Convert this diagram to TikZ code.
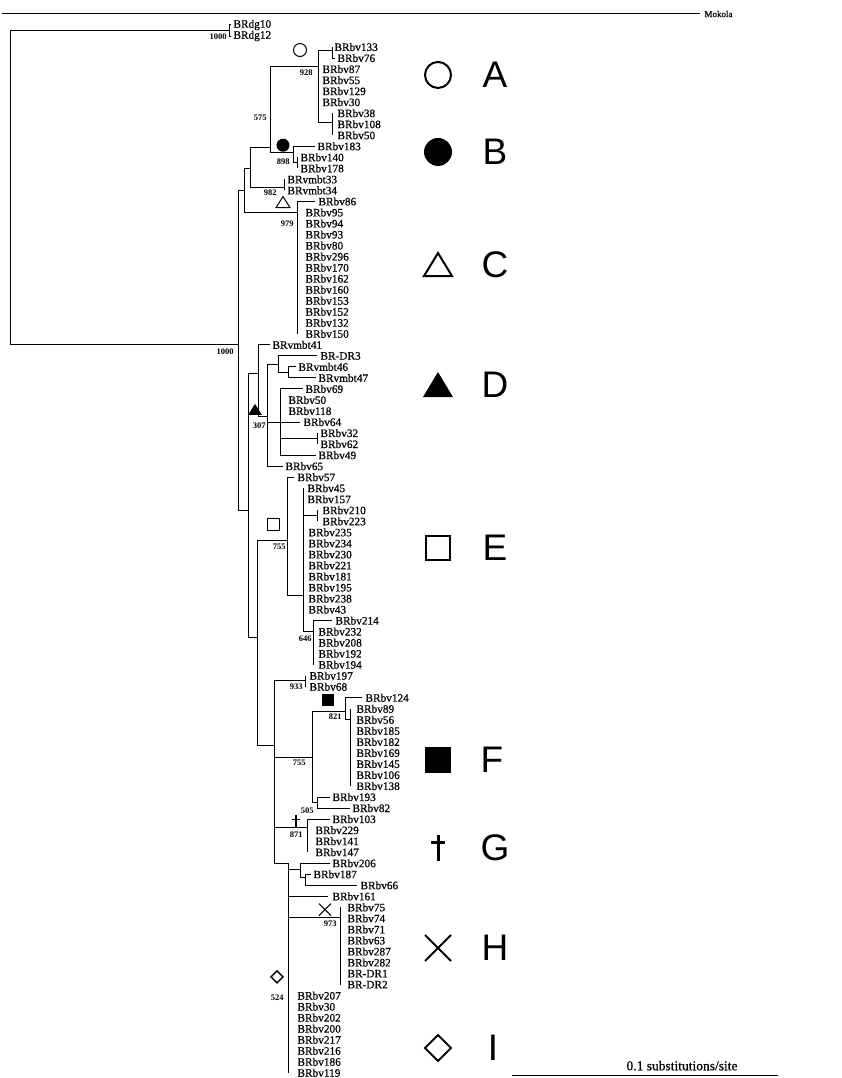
\documentclass[tikz,border=0pt]{standalone}
\usepackage{fontspec}
\setmainfont{Liberation Serif}
\newfontfamily\lsans{Liberation Sans}
\newfontfamily\leaffont[FakeBold=0.6]{Liberation Serif}
\begin{document}
\begin{tikzpicture}[x=1pt,y=-11.03pt,line width=1pt,
  leaf/.style={anchor=west,inner sep=0pt,font=\leaffont\fontsize{11.3}{11.3}\selectfont},
  boot/.style={anchor=east,inner sep=0pt,font=\bfseries\fontsize{8.5}{8.5}\selectfont},
  legtxt/.style={anchor=center,inner sep=0pt,font=\lsans\fontsize{37}{37}\selectfont},
  sym/.style={line width=1pt},
  legsym/.style={line width=2pt}]
\useasboundingbox[fill=white] (0,-1.2665) rectangle (842,96.467);
\newcommand\tleaf[3]{\node[leaf] (L#2) at (#1,#2) {#3};}
\newcommand\hb[3]{\draw (#2,#1) -- (#3,#1);}
\newcommand\vb[3]{\draw (#1,#2) -- (#1,#3);}
% ---------- branches ----------
\hb{0}{2}{700}
\vb{10}{1.5}{30}
\hb{1.5}{10}{229}\vb{229}{1}{2}\hb{1}{229}{231}\hb{2}{229}{231}
\hb{30}{10}{238}
\vb{238}{16}{45}
\hb{16}{238}{244}\vb{244}{14}{18}\hb{14}{244}{250}\vb{250}{12.1}{15.7}
\hb{12.1}{250}{270}\hb{15.7}{250}{284}\vb{284}{15}{16}
\vb{270}{4.8}{12.6}\hb{4.8}{270}{318}\hb{12.6}{270}{293}
% A
\vb{318}{3.3}{9.8}\hb{3.3}{318}{332}\vb{332}{3}{4}\hb{4}{332}{335}
\hb{9.8}{318}{332}\vb{332}{9}{11}
% B
\vb{293}{12}{13.5}\hb{12}{293}{315}\hb{13.5}{293}{297}\vb{297}{13}{14}
% C
\hb{18}{244}{297}\vb{297}{17}{29}\hb{17}{297}{315}
% D
\hb{45}{238}{248}\vb{248}{32.6}{56.5}\hb{32.6}{248}{258}\vb{258}{30}{36.5}
\hb{30}{258}{270}\hb{36.5}{258}{267}\vb{267}{31.8}{41}
\hb{31.8}{267}{278}\vb{278}{31}{32.5}\hb{31}{278}{317}\hb{32.5}{278}{288}
\vb{288}{32}{33}\hb{32}{288}{296}\hb{33}{288}{316}
\hb{37}{267}{280}\vb{280}{34}{40}\hb{34}{280}{303}\hb{37}{280}{300}
\hb{38.5}{280}{317}\vb{317}{38}{39}\hb{40}{280}{316}\hb{41}{267}{283}
% E
\hb{56.5}{248}{257}\vb{257}{47.7}{66.3}\hb{47.7}{257}{287}
\vb{287}{42}{52.7}\hb{42}{287}{294}\hb{52.7}{287}{303}
\vb{303}{43}{56}\hb{45.5}{303}{317}\vb{317}{45}{46}
\hb{56}{303}{313}\vb{313}{55}{59}\hb{55}{313}{332}
% F, G
\hb{66.3}{257}{274}\vb{274}{60.4}{77}\hb{60.4}{274}{305}\vb{305}{60}{61}
\hb{67.4}{274}{312}\vb{312}{63.2}{71.5}\hb{63.2}{312}{345}
\vb{345}{62}{64}\hb{62}{345}{362}\hb{64}{345}{350}\vb{350}{63}{70}
\hb{71.5}{312}{317}\vb{317}{71}{72}\hb{71}{317}{330}\hb{72}{317}{350}
\hb{73.8}{274}{307}\vb{307}{73}{76}\hb{73}{307}{330}
% H, I
\hb{77}{274}{288}\vb{288}{77}{96}\hb{77.6}{288}{300}\vb{300}{77}{78.3}
\hb{77}{300}{330}\hb{78.3}{300}{305}\vb{305}{78}{79}\hb{78}{305}{311}
\hb{79}{305}{357}\hb{80}{288}{328}\hb{81.9}{288}{340}\vb{340}{81}{88}
% ---------- leaves ----------
\node[leaf,font=\leaffont\fontsize{9}{9}\selectfont] (mok) at (704,0) {Mokola};
\tleaf{233}{1}{BRdg10}\tleaf{233}{2}{BRdg12}
\tleaf{334}{3}{BRbv133}\tleaf{337}{4}{BRbv76}
\tleaf{322}{5}{BRbv87}\tleaf{322}{6}{BRbv55}\tleaf{322}{7}{BRbv129}\tleaf{322}{8}{BRbv30}
\tleaf{337}{9}{BRbv38}\tleaf{337}{10}{BRbv108}\tleaf{337}{11}{BRbv50}
\tleaf{317}{12}{BRbv183}\tleaf{300}{13}{BRbv140}\tleaf{300}{14}{BRbv178}
\tleaf{287}{15}{BRvmbt33}\tleaf{287}{16}{BRvmbt34}
\tleaf{318}{17}{BRbv86}
\tleaf{305}{18}{BRbv95}\tleaf{305}{19}{BRbv94}\tleaf{305}{20}{BRbv93}\tleaf{305}{21}{BRbv80}
\tleaf{305}{22}{BRbv296}\tleaf{305}{23}{BRbv170}\tleaf{305}{24}{BRbv162}\tleaf{305}{25}{BRbv160}
\tleaf{305}{26}{BRbv153}\tleaf{305}{27}{BRbv152}\tleaf{305}{28}{BRbv132}\tleaf{305}{29}{BRbv150}
\tleaf{272}{30}{BRvmbt41}\tleaf{320}{31}{BR-DR3}\tleaf{298}{32}{BRvmbt46}\tleaf{318}{33}{BRvmbt47}
\tleaf{305}{34}{BRbv69}\tleaf{288}{35}{BRbv50}\tleaf{288}{36}{BRbv118}\tleaf{303}{37}{BRbv64}
\tleaf{320}{38}{BRbv32}\tleaf{320}{39}{BRbv62}\tleaf{318}{40}{BRbv49}\tleaf{285}{41}{BRbv65}
\tleaf{297}{42}{BRbv57}\tleaf{307}{43}{BRbv45}\tleaf{307}{44}{BRbv157}
\tleaf{322}{45}{BRbv210}\tleaf{322}{46}{BRbv223}
\tleaf{308}{47}{BRbv235}\tleaf{308}{48}{BRbv234}\tleaf{308}{49}{BRbv230}\tleaf{308}{50}{BRbv221}
\tleaf{308}{51}{BRbv181}\tleaf{308}{52}{BRbv195}\tleaf{308}{53}{BRbv238}\tleaf{308}{54}{BRbv43}
\tleaf{335}{55}{BRbv214}\tleaf{318}{56}{BRbv232}\tleaf{318}{57}{BRbv208}\tleaf{318}{58}{BRbv192}
\tleaf{318}{59}{BRbv194}
\tleaf{309}{60}{BRbv197}\tleaf{309}{61}{BRbv68}
\tleaf{365}{62}{BRbv124}
\tleaf{356}{63}{BRbv89}\tleaf{356}{64}{BRbv56}\tleaf{356}{65}{BRbv185}\tleaf{356}{66}{BRbv182}
\tleaf{356}{67}{BRbv169}\tleaf{356}{68}{BRbv145}\tleaf{356}{69}{BRbv106}\tleaf{356}{70}{BRbv138}
\tleaf{332}{71}{BRbv193}\tleaf{352}{72}{BRbv82}
\tleaf{332}{73}{BRbv103}\tleaf{315}{74}{BRbv229}\tleaf{315}{75}{BRbv141}\tleaf{315}{76}{BRbv147}
\tleaf{332}{77}{BRbv206}\tleaf{313}{78}{BRbv187}\tleaf{360}{79}{BRbv66}\tleaf{332}{80}{BRbv161}
\tleaf{347}{81}{BRbv75}\tleaf{347}{82}{BRbv74}\tleaf{347}{83}{BRbv71}\tleaf{347}{84}{BRbv63}
\tleaf{347}{85}{BRbv287}\tleaf{347}{86}{BRbv282}\tleaf{347}{87}{BR-DR1}\tleaf{347}{88}{BR-DR2}
\tleaf{297}{89}{BRbv207}\tleaf{297}{90}{BRbv30}\tleaf{297}{91}{BRbv202}\tleaf{297}{92}{BRbv200}
\tleaf{297}{93}{BRbv217}\tleaf{297}{94}{BRbv216}\tleaf{297}{95}{BRbv186}\tleaf{297}{96}{BRbv119}
% ---------- bootstrap values ----------
\node[boot] (b1) at (227,2.1) {1000};
\node[boot] (b2) at (313,5.3) {928};
\node[boot] (b3) at (267,9.4) {575};
\node[boot] (b4) at (290,13.4) {898};
\node[boot] (b5) at (277,16.2) {982};
\node[boot] (b6) at (294,19) {979};
\node[boot] (b7) at (234,30.6) {1000};
\node[boot] (b8) at (266,37.3) {307};
\node[boot] (b9) at (286,48.3) {755};
\node[boot] (b10) at (312,56.6) {646};
\node[boot] (b11) at (303,61) {933};
\node[boot] (b12) at (342,63.7) {821};
\node[boot] (b13) at (306,67.9) {755};
\node[boot] (b14) at (314,72.2) {505};
\node[boot] (b15) at (303,74.4) {871};
\node[boot] (b16) at (337,82.5) {973};
\node[boot] (b17) at (284,89.2) {524};
% ---------- symbols on tree ----------
\draw[sym] (300,3.27) circle[radius=6.5pt];
\fill (283,11.9) circle[radius=6.5pt];
\begin{scope}[shift={(283,17.1)},x=1pt,y=1pt]\draw[sym] (0,6) -- (-7,-5) -- (7,-5) -- cycle;\end{scope}
\begin{scope}[shift={(255,35.9)},x=1pt,y=1pt]\fill (0,6) -- (-7,-5) -- (7,-5) -- cycle;\end{scope}
\begin{scope}[shift={(273,46.3)},x=1pt,y=1pt]\draw[sym] (-6,-6) rectangle (6,6);\end{scope}
\begin{scope}[shift={(328,62.2)},x=1pt,y=1pt]\fill (-6,-6) rectangle (6,6);\end{scope}
\begin{scope}[shift={(296,73.2)},x=1pt,y=1pt]\draw[line width=1.2pt] (0,6) -- (0,-7) (-4,2) -- (4,2);\end{scope}
\begin{scope}[shift={(325,81.2)},x=1pt,y=1pt]\draw[sym] (-6,6) -- (6,-6) (-6,-6) -- (6,6);\end{scope}
\begin{scope}[shift={(277,87.3)},x=1pt,y=1pt]\draw[line width=1.5pt] (0,6) -- (6,0) -- (0,-6) -- (-6,0) -- cycle;\end{scope}
% ---------- legend ----------
\draw[legsym] (438,5.53) circle[radius=13pt];
\fill (438,12.51) circle[radius=14pt];
\begin{scope}[shift={(438,22.76)},x=1pt,y=1pt]\draw[legsym] (0,12) -- (-14,-11) -- (14,-11) -- cycle;\end{scope}
\begin{scope}[shift={(438,33.64)},x=1pt,y=1pt]\fill (0,13) -- (-15,-12) -- (15,-12) -- cycle;\end{scope}
\begin{scope}[shift={(438,48.42)},x=1pt,y=1pt]\draw[legsym] (-12,-12) rectangle (12,12);\end{scope}
\begin{scope}[shift={(438,67.64)},x=1pt,y=1pt]\fill (-13,-13) rectangle (13,13);\end{scope}
\begin{scope}[shift={(438,75.61)},x=1pt,y=1pt]\draw[line width=3pt] (0,13) -- (0,-13) (-7,5) -- (7,5);\end{scope}
\begin{scope}[shift={(438,84.68)},x=1pt,y=1pt]\draw[legsym] (-13,13) -- (13,-13) (-13,-13) -- (13,13);\end{scope}
\begin{scope}[shift={(438,93.75)},x=1pt,y=1pt]\draw[legsym] (0,13) -- (13,0) -- (0,-13) -- (-13,0) -- cycle;\end{scope}
\node[legtxt] (tA) at (495,5.53) {A};
\node[legtxt] (tB) at (495,12.51) {B};
\node[legtxt] (tC) at (495,22.76) {C};
\node[legtxt] (tD) at (495,33.64) {D};
\node[legtxt] (tE) at (495,48.42) {E};
\node[legtxt] (tF) at (492,67.64) {F};
\node[legtxt] (tG) at (495,75.61) {G};
\node[legtxt] (tH) at (495,84.68) {H};
\node[legtxt] (tI) at (493,93.75) {I};
% ---------- scale bar ----------
\coordinate (s1) at (512,96.2);
\coordinate (s2) at (778,96.2);
\draw (s1) -- (s2);
\node[inner sep=0pt,font=\leaffont\fontsize{13.5}{13.5}\selectfont] (sc) at (682,95.35) {0.1 substitutions/site};
\end{tikzpicture}
\end{document}
